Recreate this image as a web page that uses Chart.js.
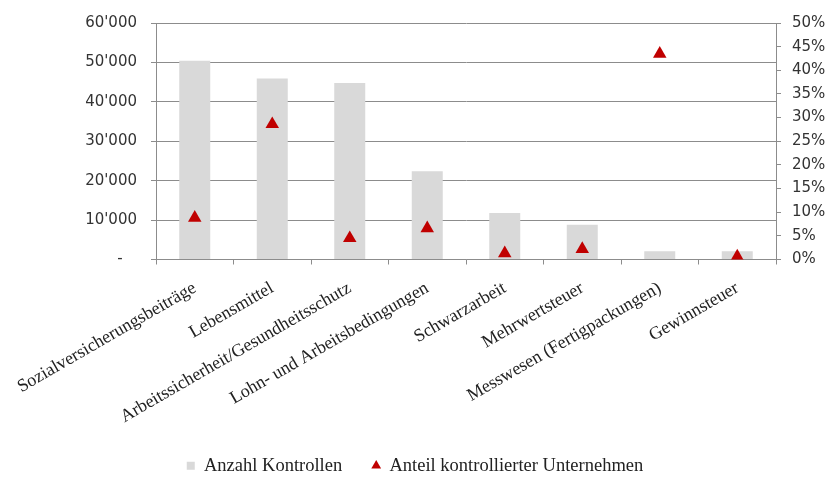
<!DOCTYPE html>
<html>
<head>
<meta charset="utf-8">
<script src="https://cdn.jsdelivr.net/npm/chart.js@4"></script>
<style>
  html, body { margin: 0; padding: 0; background: #fff; }
  #wrap { width: 830px; height: 479px; }
</style>
</head>
<body>
<div id="wrap"><canvas id="chart" width="830" height="479"></canvas></div>
<script>
const categories = [
  'Sozialversicherungsbeiträge',
  'Lebensmittel',
  'Arbeitssicherheit/Gesundheitsschutz',
  'Lohn- und Arbeitsbedingungen',
  'Schwarzarbeit',
  'Mehrwertsteuer',
  'Messwesen (Fertigpackungen)',
  'Gewinnsteuer'
];
const anzahlKontrollen = [50400, 45900, 44800, 22400, 11800, 8800, 2100, 2100];
const anteilUnternehmen = [8.8, 28.6, 4.5, 6.6, 1.3, 2.2, 43.5, 0.6];

const axisColor = '#8c8c8c';

function swissNumber(v) {
  if (v === 0) return '-   ';
  return String(v).replace(/\B(?=(\d{3})+(?!\d))/g, "'");
}

new Chart(document.getElementById('chart'), {
  type: 'bar',
  data: {
    labels: categories,
    datasets: [{
      label: 'Anzahl Kontrollen',
      data: anzahlKontrollen,
      backgroundColor: '#d9d9d9',
      categoryPercentage: 1,
      barPercentage: 0.4,
      yAxisID: 'y',
      pointStyle: 'rect',
      order: 2
    }, {
      type: 'line',
      label: 'Anteil kontrollierter Unternehmen',
      data: anteilUnternehmen,
      showLine: false,
      pointStyle: 'triangle',
      pointRadius: 7.8,
      backgroundColor: '#c00000',
      borderColor: '#c00000',
      borderWidth: 0,
      yAxisID: 'y1',
      order: 1
    }]
  },
  options: {
    responsive: false,
    animation: false,
    layout: { padding: { top: 20, left: 0, right: 0, bottom: -6 } },
    plugins: {
      tooltip: { enabled: false },
      legend: {
        position: 'bottom',
        labels: {
          usePointStyle: true,
          boxWidth: 8,
          boxHeight: 8,
          padding: 30,
          color: '#222',
          font: { family: 'Liberation Serif', size: 18.5 },
          sort: (a, b) => a.datasetIndex - b.datasetIndex
        }
      }
    },
    scales: {
      x: {
        afterFit: s => {
          s.height = 167;
          s.paddingLeft = 0;
          s.paddingRight = 0;
        },
        grid: { offset: true, drawOnChartArea: false, tickLength: 5, color: axisColor },
        border: { color: axisColor },
        ticks: {
          minRotation: 30,
          maxRotation: 30,
          padding: 13,
          color: '#222',
          font: { family: 'Liberation Serif', size: 18 }
        }
      },
      y: {
        position: 'left',
        min: 0,
        max: 60000,
        afterFit: s => { s.width = 156; },
        grid: { color: axisColor, tickLength: 5 },
        border: { color: axisColor },
        ticks: {
          stepSize: 10000,
          padding: 14,
          color: '#333',
          font: { family: 'DejaVu Sans', size: 15 },
          callback: v => swissNumber(v)
        }
      },
      y1: {
        position: 'right',
        min: 0,
        max: 50,
        afterFit: s => { s.width = 54; },
        grid: { drawOnChartArea: false, color: axisColor, tickLength: 5 },
        border: { color: axisColor },
        ticks: {
          stepSize: 5,
          padding: 11,
          color: '#333',
          font: { family: 'DejaVu Sans', size: 15 },
          callback: v => v + '%'
        }
      }
    }
  }
});
</script>
</body>
</html>
